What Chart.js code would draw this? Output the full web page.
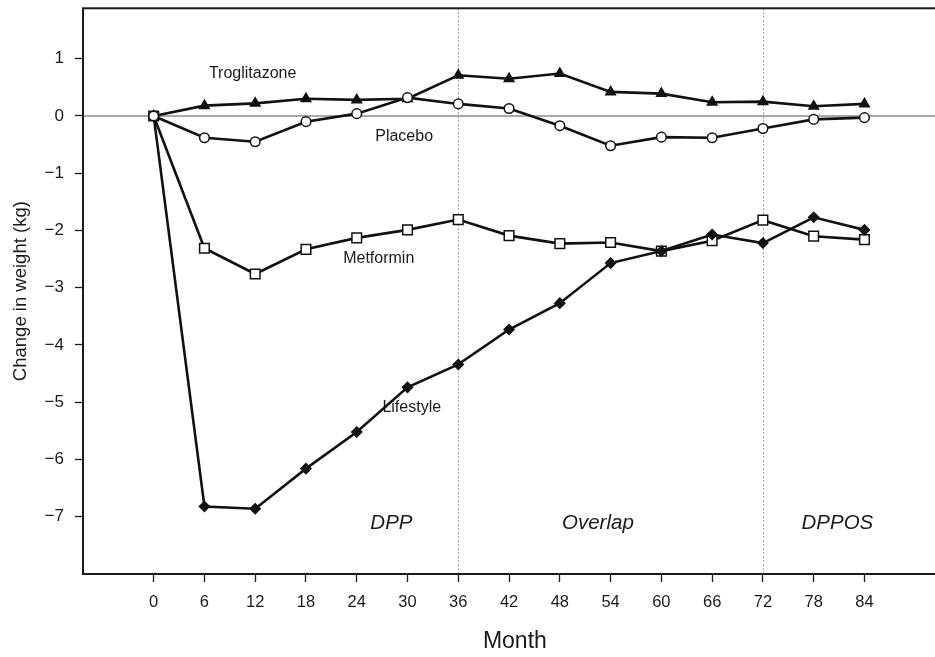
<!DOCTYPE html>
<html>
<head>
<meta charset="utf-8">
<script src="https://cdn.jsdelivr.net/npm/chart.js@4/dist/chart.umd.min.js"></script>
<style>
  html, body { margin: 0; padding: 0; background: #fff; overflow: hidden; }
  #wrap { width: 955px; height: 657px; }
</style>
</head>
<body>
<div id="wrap"><canvas id="weightChart" width="955" height="657"></canvas></div>
<script>
// Datos (cambio de peso en kg)
const months = [0, 6, 12, 18, 24, 30, 36, 42, 48, 54, 60, 66, 72, 78, 84];
const troglitazone = [0, 0.18, 0.22, 0.30, 0.28, 0.30, 0.71, 0.65, 0.74, 0.42, 0.39, 0.24, 0.25, 0.17, 0.21];
const placebo = [0, -0.38, -0.45, -0.10, 0.04, 0.32, 0.21, 0.13, -0.17, -0.52, -0.37, -0.38, -0.22, -0.06, -0.03];
const metformin = [0, -2.31, -2.76, -2.33, -2.13, -1.99, -1.81, -2.09, -2.23, -2.21, -2.36, -2.18, -1.82, -2.10, -2.16];
const lifestyle = [0, -6.82, -6.86, -6.16, -5.52, -4.74, -4.34, -3.73, -3.27, -2.57, -2.36, -2.07, -2.22, -1.77, -1.99];
const yTicks = [-7, -6, -5, -4, -3, -2, -1, 0, 1];
const phaseBreaks = [36, 72];

const FONT = "'Liberation Sans', Arial, Helvetica, sans-serif";
const INK = '#1a1a1a';

function pts(values) {
  return months.map((m, i) => ({ x: m, y: values[i] }));
}

// Texto dentro del gráfico: [texto, mes, valor, cursiva]
const notes = [
  ['Troglitazone', 11.7, 0.74, false],
  ['Placebo', 29.6, -0.36, false],
  ['Metformin', 26.6, -2.49, false],
  ['Lifestyle', 30.5, -5.10, false],
  ['DPP', 28.1, -7.12, true],
  ['Overlap', 52.5, -7.12, true],
  ['DPPOS', 80.8, -7.12, true]
];

const overlay = {
  id: 'overlay',
  beforeDatasetsDraw(chart) {
    const { ctx, chartArea: a, scales: { x, y } } = chart;
    ctx.save();
    // línea del cero
    ctx.strokeStyle = '#a8a8a8';
    ctx.lineWidth = 2;
    const y0 = y.getPixelForValue(0);
    ctx.beginPath();
    ctx.moveTo(a.left, y0);
    ctx.lineTo(a.right, y0);
    ctx.stroke();
    // separaciones de fases
    ctx.strokeStyle = '#9a9a9a';
    ctx.lineWidth = 1;
    ctx.setLineDash([2, 2]);
    phaseBreaks.forEach(m => {
      const px = Math.round(x.getPixelForValue(m)) + 0.5;
      ctx.beginPath();
      ctx.moveTo(px, a.top);
      ctx.lineTo(px, a.bottom);
      ctx.stroke();
    });
    ctx.setLineDash([]);
    // marco
    ctx.strokeStyle = INK;
    ctx.lineWidth = 2;
    ctx.strokeRect(a.left, a.top, a.right - a.left, a.bottom - a.top);
    // etiquetas (debajo de las líneas, como en el original)
    ctx.fillStyle = INK;
    ctx.textAlign = 'center';
    ctx.textBaseline = 'middle';
    notes.forEach(([txt, m, v, it]) => {
      ctx.font = it ? 'italic 20.5px ' + FONT : '16px ' + FONT;
      ctx.fillText(txt, x.getPixelForValue(m), y.getPixelForValue(v));
    });
    ctx.restore();
  }
};

const lineBase = {
  borderColor: '#111',
  borderWidth: 2.6,
  tension: 0,
  pointBorderColor: '#111',
  pointBorderWidth: 1.5,
  pointHoverRadius: 5
};

new Chart(document.getElementById('weightChart'), {
  type: 'line',
  data: {
    datasets: [
      Object.assign({}, lineBase, { label: 'Placebo', data: pts(placebo), pointStyle: 'circle', pointRadius: 4.8, pointBackgroundColor: '#fff' }),
      Object.assign({}, lineBase, { label: 'Troglitazone', data: pts(troglitazone), pointStyle: 'triangle', pointRadius: 5.5, pointBackgroundColor: '#111' }),
      Object.assign({}, lineBase, { label: 'Lifestyle', data: pts(lifestyle), pointStyle: 'rectRot', pointRadius: 5, pointBackgroundColor: '#111' }),
      Object.assign({}, lineBase, { label: 'Metformin', data: pts(metformin), pointStyle: 'rect', pointRadius: 6.8, pointBackgroundColor: '#fff' })
    ]
  },
  options: {
    responsive: false,
    animation: false,
    layout: { padding: { top: 5, right: 0, left: 0, bottom: 0 } },
    plugins: { legend: { display: false }, tooltip: { enabled: false } },
    scales: {
      x: {
        type: 'linear',
        min: -8.35,
        max: 93.72,
        afterBuildTicks: s => { s.ticks = months.map(v => ({ value: v })); },
        afterFit: s => { s.height = 83; s.paddingLeft = 0; s.paddingRight = 0; },
        grid: { drawOnChartArea: false, drawTicks: true, tickLength: 8, tickColor: INK, tickWidth: 1.3 },
        border: { display: false },
        ticks: { color: INK, padding: 11, maxRotation: 0, autoSkip: false, font: { family: FONT, size: 16.5 } },
        title: { display: true, text: 'Month', color: INK, padding: { top: 0, bottom: 2 }, font: { family: FONT, size: 23 } }
      },
      y: {
        type: 'linear',
        min: -8,
        max: 1.88,
        afterBuildTicks: s => { s.ticks = yTicks.map(v => ({ value: v })); },
        afterFit: s => { s.width = 83; s.paddingTop = 0; s.paddingBottom = 0; },
        grid: { drawOnChartArea: false, drawTicks: true, tickLength: 8, tickColor: INK, tickWidth: 1.3 },
        border: { display: false },
        ticks: {
          color: INK,
          padding: 11,
          font: { family: FONT, size: 17 },
          callback: v => (v < 0 ? '\u2212' + Math.abs(v) : String(v))
        },
        title: { display: true, text: 'Change in weight (kg)', color: INK, padding: { top: 10, bottom: 0 }, font: { family: FONT, size: 18.5 } }
      }
    }
  },
  plugins: [overlay]
});
</script>
</body>
</html>
